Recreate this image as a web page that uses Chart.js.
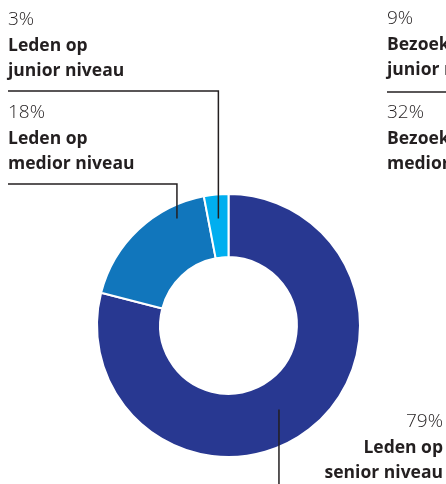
<!DOCTYPE html>
<html>
<head>
<meta charset="utf-8">
<script src="https://cdn.jsdelivr.net/npm/chart.js@4"></script>
<style>
  html, body { margin: 0; padding: 0; background: #fff; }
  #wrap { width: 446px; height: 484px; position: relative; }
</style>
</head>
<body>
<div id="wrap"><canvas id="chart"></canvas></div>
<script>
// ---- data ----
const categories = ['Leden op senior niveau', 'Leden op medior niveau', 'Leden op junior niveau'];
const values = [79, 18, 3];
const labelLines = [['Leden op', 'senior niveau'], ['Leden op', 'medior niveau'], ['Leden op', 'junior niveau']];
const colors = ['#283891', '#1176bc', '#00aeef'];

// labels of the neighbouring chart, cut off at the right edge
const sideValues = [9, 32];
const sideLines = [['Bezoekers op', 'junior niveau'], ['Bezoekers op', 'medior niveau']];

const TEXT = '#231f20';
const PCT_FONT = '300 19px "Open Sans"';
const LBL_FONT = 'bold 17.5px "Open Sans"';

// where on each arc the leader line lands (fraction along the arc, fraction across the ring)
const anchor = [{ t: 0.524, f: 0.47 }, { t: 0.77, f: 0.8 }, { t: 0.5, f: 0.62 }];

function arcPoint(arc, a) {
  const ang = arc.startAngle + a.t * (arc.endAngle - arc.startAngle);
  const r = arc.innerRadius + a.f * (arc.outerRadius - arc.innerRadius);
  return { x: arc.x + r * Math.cos(ang), y: arc.y + r * Math.sin(ang) };
}

function block(ctx, x, y, pct, lines, align) {
  ctx.textAlign = align;
  ctx.textBaseline = 'alphabetic';
  ctx.fillStyle = TEXT;
  ctx.font = PCT_FONT;
  ctx.fillText(pct + '%', x, y);
  ctx.font = LBL_FONT;
  lines.forEach((l, i) => ctx.fillText(l, x, y + 26 + i * 25));
}

/* labels + leader lines */
const labelPlugin = {
  id: 'labels',
  afterDraw(chart) {
    const ctx = chart.ctx;
    const arcs = chart.getDatasetMeta(0).data;
    const W = chart.width, H = chart.height;
    ctx.save();
    ctx.strokeStyle = TEXT;
    ctx.lineWidth = 1.5;

    // junior (top)
    let p = arcPoint(arcs[2], anchor[2]);
    block(ctx, 8, 25, values[2], labelLines[2], 'left');
    ctx.beginPath();
    ctx.moveTo(8, 91); ctx.lineTo(p.x, 91); ctx.lineTo(p.x, p.y);
    ctx.stroke();

    // medior
    p = arcPoint(arcs[1], anchor[1]);
    block(ctx, 8, 118, values[1], labelLines[1], 'left');
    ctx.beginPath();
    ctx.moveTo(8, 184); ctx.lineTo(p.x, 184); ctx.lineTo(p.x, p.y);
    ctx.stroke();

    // senior
    p = arcPoint(arcs[0], anchor[0]);
    block(ctx, W - 3, 427, values[0], labelLines[0], 'right');
    ctx.beginPath();
    ctx.moveTo(p.x, p.y); ctx.lineTo(p.x, H);
    ctx.stroke();

    // neighbouring chart labels
    block(ctx, 387, 24, sideValues[0], sideLines[0], 'left');
    ctx.beginPath();
    ctx.moveTo(387, 92); ctx.lineTo(W, 92);
    ctx.stroke();
    block(ctx, 387, 118, sideValues[1], sideLines[1], 'left');

    ctx.restore();
  }
};

new Chart(document.getElementById('chart'), {
  type: 'doughnut',
  data: {
    labels: categories,
    datasets: [{
      data: values,
      backgroundColor: colors,
      borderColor: '#ffffff',
      borderWidth: 2
    }]
  },
  options: {
    responsive: true,
    maintainAspectRatio: false,
    animation: false,
    cutout: '52%',
    layout: { padding: { left: 96, right: 85, top: 193, bottom: 26 } },
    plugins: {
      legend: { display: false },
      tooltip: { enabled: false }
    }
  },
  plugins: [labelPlugin]
});
</script>
</body>
</html>
